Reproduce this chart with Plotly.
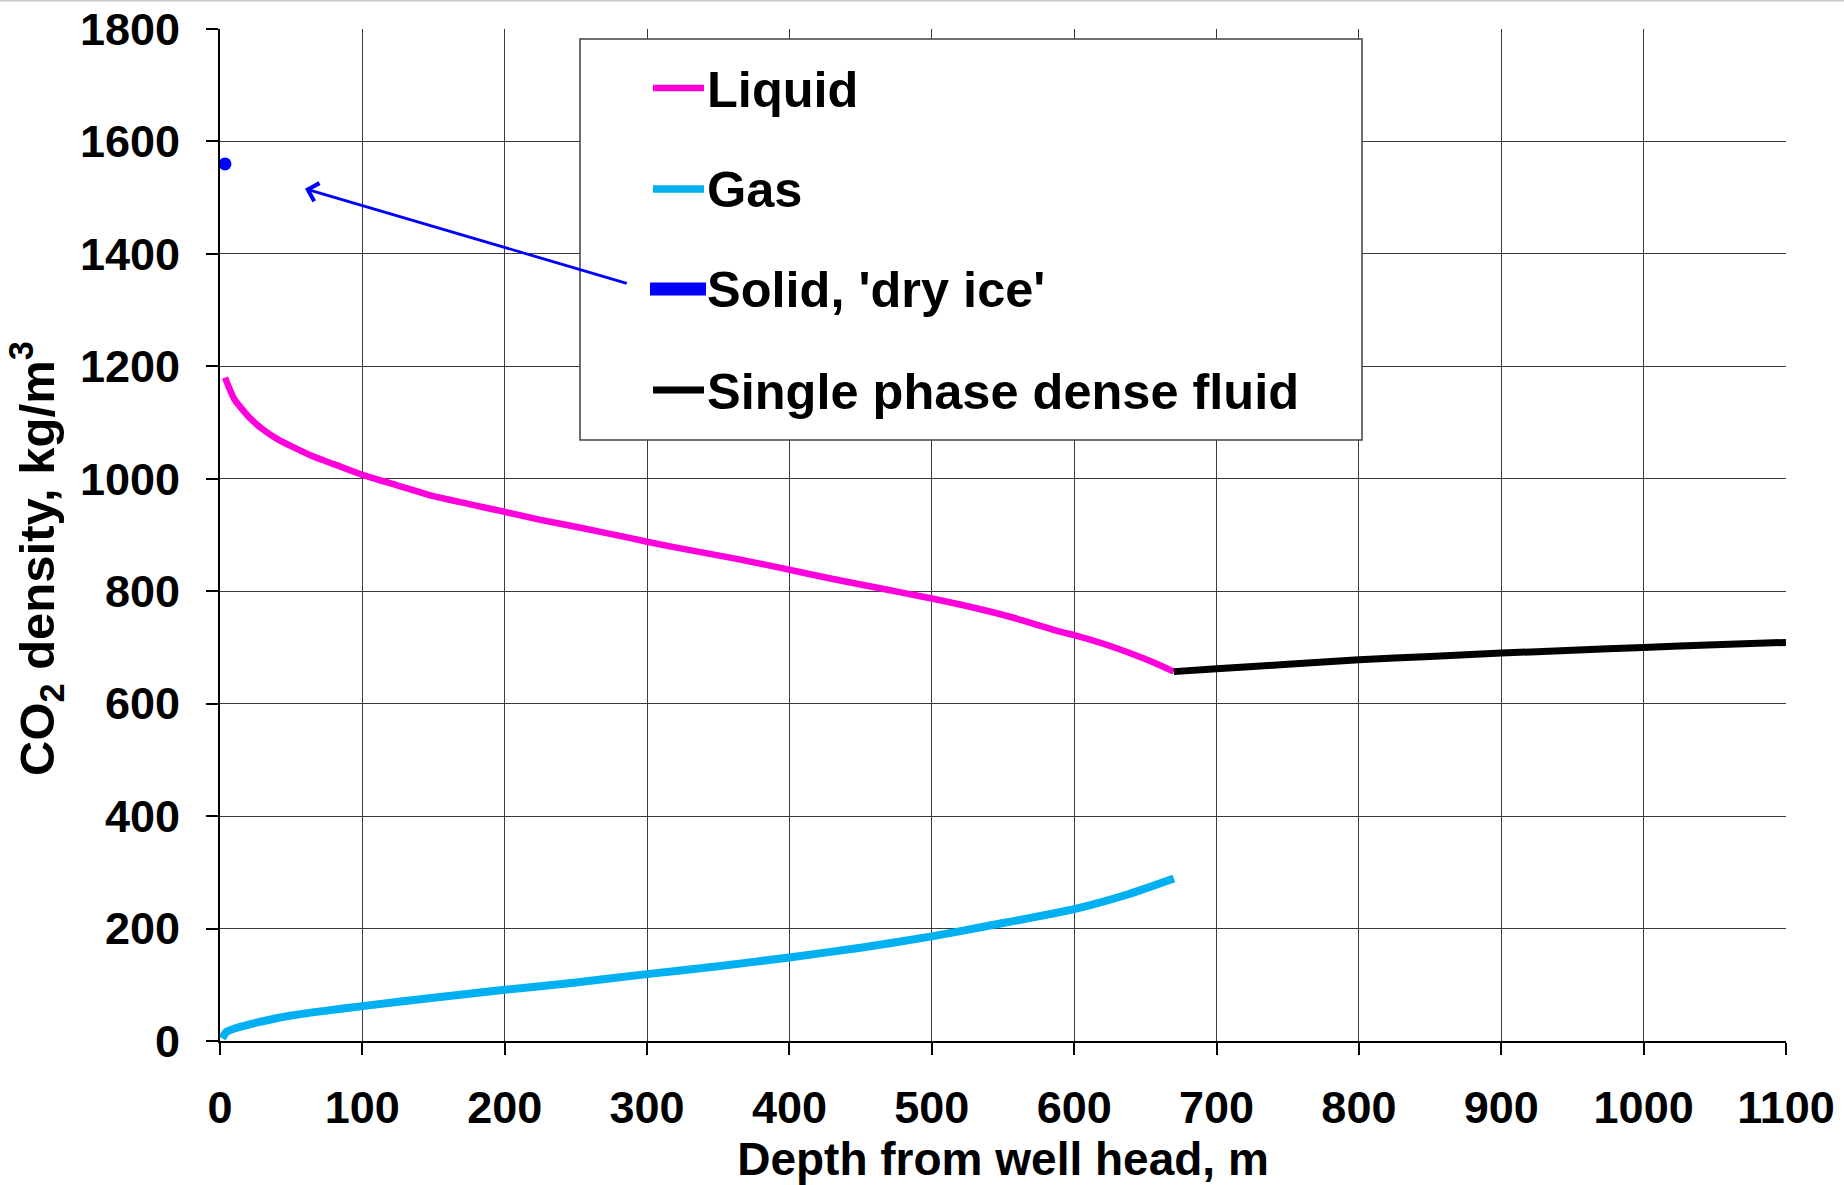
import plotly.graph_objects as go

# ---------------- data ----------------
liquid_depth = [3.5, 10, 21, 30, 40, 50, 66, 80, 100, 125, 147, 175, 200, 225, 255, 280,
                300, 330, 362, 393, 428, 460, 480, 500, 529, 560, 590, 600, 620, 639, 655, 670]
liquid_density = [1180, 1142, 1108, 1088, 1071, 1058, 1039, 1026, 1007, 988, 971, 955, 941, 927, 912, 899,
                  888, 873, 858, 842, 823, 807, 797, 787, 771, 751, 728, 722, 707, 690, 674, 657]

gas_depth = [1.5, 4.7, 14, 28, 49, 75, 100, 150, 200, 250, 300, 350, 400, 450, 500, 540, 600, 638, 670]
gas_density = [5, 16.5, 25, 34, 45, 54, 62, 77, 91, 104, 119, 133, 148.6, 166, 186, 205, 234.5, 261, 289]

solid_depth = [3.5]
solid_density = [1560]

dense_depth = [670, 700, 750, 800, 850, 900, 950, 1000, 1050, 1100]
dense_density = [657, 662, 670, 678, 684, 690, 695, 700, 705, 709]

series_names = ["Liquid", "Gas", "Solid, 'dry ice'", "Single phase dense fluid"]
series_colors = ["#FF00DC", "#00B0F0", "#0000FF", "#000000"]

x_ticks = list(range(0, 1101, 100))
y_ticks = list(range(0, 1801, 200))

x_title = "Depth from well head, m"
y_title = "CO<sub>2</sub> density, kg/m<sup>3</sup>"

# ---------------- layout geometry ----------------
W, H = 1844, 1185
L, R, T, B = 220, 58, 29, 144
PW, PH = W - L - R, H - T - B

def px_x(p):
    return (p - L) / PW

def px_y(p):
    return (H - B - p) / PH

FONT = "Liberation Sans, Arial, sans-serif"

fig = go.Figure()
fig.add_trace(go.Scatter(x=liquid_depth, y=liquid_density, mode="lines", name=series_names[0],
                         line=dict(color=series_colors[0], width=6.5, shape="spline", smoothing=0.6),
                         showlegend=False))
fig.add_trace(go.Scatter(x=gas_depth, y=gas_density, mode="lines", name=series_names[1],
                         line=dict(color=series_colors[1], width=8, shape="spline", smoothing=0.6),
                         showlegend=False))
fig.add_trace(go.Scatter(x=solid_depth, y=solid_density, mode="markers", name=series_names[2],
                         marker=dict(color=series_colors[2], size=13), showlegend=False))
fig.add_trace(go.Scatter(x=dense_depth, y=dense_density, mode="lines", name=series_names[3],
                         line=dict(color=series_colors[3], width=7, shape="spline", smoothing=0.6),
                         showlegend=False))

axis_common = dict(
    showline=True, linecolor="#000000", linewidth=2, automargin=False,
    showgrid=True, gridcolor="#3a3a3a", gridwidth=1.4,
    zeroline=False, ticks="outside", ticklen=12, tickcolor="#000000", tickwidth=1.5,
    tickfont=dict(family=FONT, size=45, color="#000000", weight="bold"),
)

fig.update_xaxes(range=[0, 1100], tickvals=x_ticks, ticktext=[str(v) for v in x_ticks],
                 ticklabelstandoff=14,
                 title=dict(text=x_title, font=dict(family=FONT, size=46, color="#000000", weight="bold"),
                            standoff=33),
                 **axis_common)
fig.update_yaxes(range=[0, 1800], tickvals=y_ticks, ticktext=[str(v) for v in y_ticks],
                 ticklabelstandoff=17, **axis_common)

shapes = []
annotations = []

# legend box
shapes.append(dict(type="rect", xref="paper", yref="paper",
                   x0=px_x(580), x1=px_x(1362), y0=px_y(440), y1=px_y(39),
                   line=dict(color="#404040", width=1.5), fillcolor="#FFFFFF", layer="above"))
leg_y = [88, 189, 289, 390]
leg_w = [6.5, 7.5, 13, 7]
leg_x0 = [653, 653, 650, 653]
leg_x1 = [704, 704, 706, 704]
for name, col, yy, lw, a, b in zip(series_names, series_colors, leg_y, leg_w, leg_x0, leg_x1):
    shapes.append(dict(type="line", xref="paper", yref="paper",
                       x0=px_x(a), x1=px_x(b), y0=px_y(yy), y1=px_y(yy),
                       line=dict(color=col, width=lw), layer="above"))
    annotations.append(dict(xref="paper", yref="paper", x=px_x(705), y=px_y(yy + 1),
                            xanchor="left", yanchor="middle", showarrow=False, text=name,
                            font=dict(family=FONT, size=50.5, color="#000000", weight="bold")))

# top light border line of image
shapes.append(dict(type="line", xref="paper", yref="paper", x0=px_x(0), x1=px_x(W),
                   y0=px_y(0.5), y1=px_y(0.5), line=dict(color="#C8C8C8", width=2)))

# arrow pointing at the solid point
annotations.append(dict(x=59.7, y=1516, ax=286.8, ay=1346.8, xref="x", yref="y", axref="x", ayref="y",
                        showarrow=True, arrowhead=4, arrowsize=1.3, arrowwidth=2.8,
                        arrowcolor="#0000FF", text=""))

# y-axis title
annotations.append(dict(xref="paper", yref="paper", x=px_x(36), y=px_y(559), xanchor="center",
                        yanchor="middle", textangle=-90, showarrow=False, text=y_title,
                        font=dict(family=FONT, size=49, color="#000000", weight="bold")))

fig.update_layout(
    width=W, height=H,
    margin=dict(l=L, r=R, t=T, b=B, pad=0),
    paper_bgcolor="#FFFFFF", plot_bgcolor="#FFFFFF",
    showlegend=False,
    shapes=shapes, annotations=annotations,
    font=dict(family=FONT, color="#000000"),
)

fig.write_html("out.html")
